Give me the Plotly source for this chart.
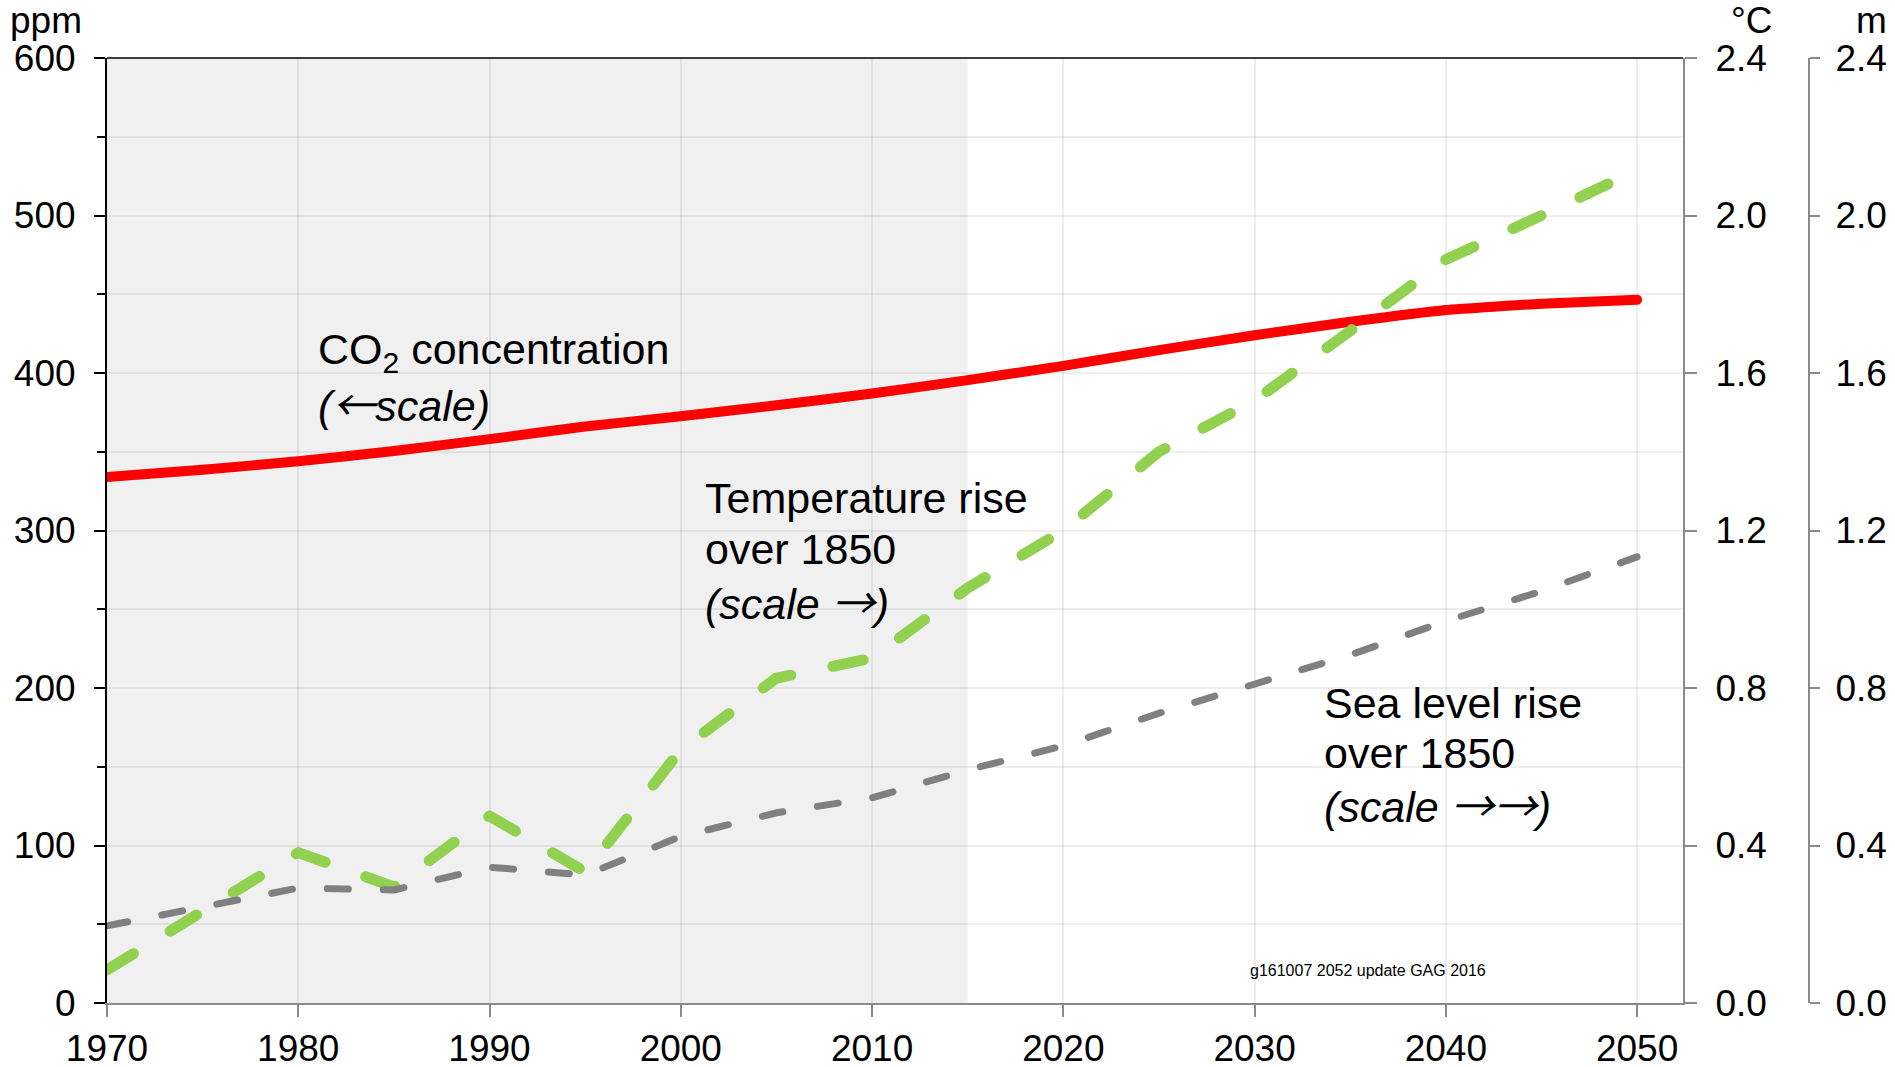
import plotly.graph_objects as go

# ---------------- data ----------------
years = [1970, 1975, 1980, 1985, 1990, 1995, 2000, 2005, 2010, 2015,
         2020, 2025, 2030, 2035, 2040, 2045, 2050]
co2_ppm = [334, 338.5, 344, 350.5, 358, 366, 372.5, 379.5, 387, 395.5,
           404.5, 414.5, 424, 432.5, 440, 444, 446.5]
temp_rise_c = [0.084, 0.235, 0.382, 0.295, 0.475, 0.333, 0.643, 0.825, 0.876, 1.054,
               1.20, 1.40, 1.53, 1.707, 1.888, 2.0, 2.115]
sea_rise_m = [0.196, 0.245, 0.292, 0.287, 0.345, 0.325, 0.423, 0.483, 0.521, 0.592,
              0.653, 0.736, 0.808, 0.884, 0.970, 1.046, 1.133]
x_ticks = [1970, 1980, 1990, 2000, 2010, 2020, 2030, 2040, 2050]
history_end = 2015

# ---------------- figure ----------------
W, H = 1895, 1067
ML, MR, MT, MB = 107, 5, 58, 64
plot_w = W - ML - MR
plot_h = H - MT - MB
x_dom_end = 1576 / plot_w

FONT = "Liberation Sans, Arial, sans-serif"
GRID = "rgba(0,0,0,0.065)"
AXGREY = "#8a8a8a"
TICK_FS = 37
ANN_FS = 43

fig = go.Figure()

fig.add_trace(go.Scatter(
    x=years, y=temp_rise_c, yaxis="y2", mode="lines",
    line=dict(color="#92d050", width=11, dash="31px,43px"),
    hoverinfo="skip"))
fig.add_trace(go.Scatter(
    x=years, y=sea_rise_m, yaxis="y3", mode="lines",
    line=dict(color="#808080", width=7, dash="21px,35px"),
    hoverinfo="skip"))
fig.add_trace(go.Scatter(
    x=years, y=co2_ppm, yaxis="y", mode="lines",
    line=dict(color="#ff0000", width=10, shape="spline", smoothing=0.4),
    hoverinfo="skip"))

fig.update_layout(
    width=W, height=H,
    margin=dict(l=ML, r=MR, t=MT, b=MB, autoexpand=False),
    plot_bgcolor="white", paper_bgcolor="white",
    showlegend=False,
    font=dict(family=FONT, size=TICK_FS, color="black"),
    xaxis=dict(
        domain=[0, x_dom_end], range=[1970, 2052.4], automargin=False,
        tickvals=x_ticks, ticks="outside", ticklen=12, tickwidth=2,
        tickcolor=AXGREY, showline=True, linecolor=AXGREY, linewidth=2,
        showgrid=True, gridcolor=GRID, gridwidth=1.5, zeroline=False,
        ticklabelstandoff=0, tickfont=dict(size=TICK_FS),
    ),
    yaxis=dict(
        range=[0, 600], dtick=100, ticks="outside", ticklen=11, tickwidth=2,
        automargin=False,
        tickcolor="black", showline=True, linecolor="black", linewidth=2,
        showgrid=True, gridcolor=GRID, gridwidth=1.5, zeroline=False,
        minor=dict(dtick=50, ticks="outside", ticklen=8, tickwidth=1.5,
                   tickcolor="black", showgrid=True, gridcolor=GRID, gridwidth=1.5),
        ticklabelstandoff=11, tickfont=dict(size=TICK_FS),
    ),
    yaxis2=dict(
        overlaying="y", side="right", anchor="x", automargin=False,
        range=[0, 2.4], dtick=0.4, tickformat=".1f",
        ticks="outside", ticklen=12, tickwidth=2, tickcolor=AXGREY,
        showline=True, linecolor=AXGREY, linewidth=2,
        showgrid=False, zeroline=False, ticklabelstandoff=11,
        tickfont=dict(size=TICK_FS),
    ),
    yaxis3=dict(
        overlaying="y", side="right", anchor="free", automargin=False,
        position=(1809 - ML) / plot_w,
        range=[0, 2.4], dtick=0.4, tickformat=".1f",
        ticks="outside", ticklen=10, tickwidth=2, tickcolor=AXGREY,
        showline=True, linecolor=AXGREY, linewidth=2,
        showgrid=False, zeroline=False, ticklabelstandoff=8,
        tickfont=dict(size=TICK_FS),
    ),
)

# shaded historical period and top border
fig.add_shape(type="rect", xref="x", yref="y domain", x0=1970, x1=history_end,
              y0=0, y1=1, fillcolor="#f0f0f0", line=dict(width=0), layer="below")
fig.add_shape(type="line", xref="x domain", yref="y domain", x0=0, x1=1,
              y0=1, y1=1, line=dict(color="black", width=1.5))


def px_to_year(px):
    return 1970 + (px - ML) / (1576 / 82.4)


def px_to_ppm(py):
    return (MT + plot_h - py) / (plot_h / 600)


def add_text(text, left_px, baseline_px, size=ANN_FS):
    fig.add_annotation(text=text, xref="x", yref="y",
                       x=px_to_year(left_px), y=px_to_ppm(baseline_px - 0.35 * size),
                       xanchor="left", yanchor="middle", showarrow=False,
                       font=dict(size=size, color="black", family=FONT))


ARR = '<span style="font-family:\'Noto Sans CJK JP\'">{}</span>'
LEFT = ARR.format("←")
RIGHT = ARR.format("→")

add_text("CO<sub>2</sub> concentration", 316, 367)
add_text("<i>(" + LEFT + "scale)</i>", 316, 417)

add_text("Temperature rise", 703, 513)
add_text("over 1850", 703, 564)
add_text("<i>(scale " + RIGHT + ")</i>", 703, 615)

add_text("Sea level rise", 1322, 718)
add_text("over 1850", 1322, 768)
add_text("<i>(scale " + RIGHT + RIGHT + ")</i>", 1322, 818)


# axis unit labels
def paper_x(px):
    return (px - ML) / plot_w


def paper_y(py):
    return (MT + plot_h - py) / plot_h


for txt, xc, anchor in [("ppm", 8, "left"), ("°C", 1752, "center"), ("m", 1871, "center")]:
    fig.add_annotation(text=txt, xref="paper", yref="paper",
                       x=paper_x(xc), y=paper_y(33 - 0.35 * TICK_FS),
                       xanchor=anchor, yanchor="middle", showarrow=False,
                       font=dict(size=TICK_FS, family=FONT, color="black"))

fig.add_annotation(text="g161007 2052 update GAG 2016", xref="paper", yref="paper",
                   x=paper_x(1368), y=paper_y(970),
                   xanchor="center", yanchor="middle", showarrow=False,
                   font=dict(size=16, family=FONT, color="black"))

post = ("document.body.style.margin='0';"
        "var s=document.createElement('style');"
        "s.innerHTML='.scatterlayer .js-line{stroke-linecap:round;stroke-linejoin:round;}';"
        "document.head.appendChild(s);")
fig.write_html("out.html", post_script=post, config={"displayModeBar": False})
